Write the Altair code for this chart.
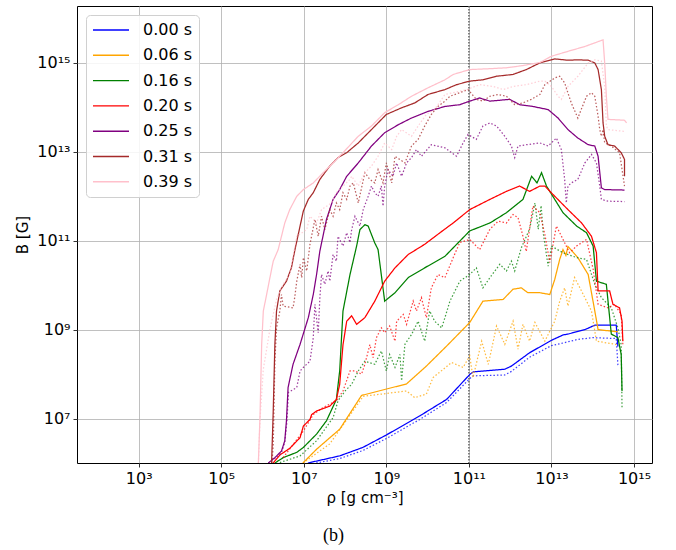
import altair as alt
import pandas as pd

# ---- categories -------------------------------------------------------
times = ["0.00 s", "0.06 s", "0.16 s", "0.20 s", "0.25 s", "0.31 s", "0.39 s"]
colors = ["blue", "orange", "green", "red", "purple", "brown", "pink"]

# ---- data: log10(rho [g/cm^3]) and log10(B [G]) ----
# 0.00 s
t0_solid_lrho = [7.10, 7.87, 8.43, 9.0, 9.81, 10.46, 11.02, 11.10, 11.87, 12.03, 12.47, 13.0, 13.28, 13.40, 13.81, 14.05, 14.57, 14.61]
t0_solid_lB = [6.0, 6.16, 6.35, 6.63, 7.06, 7.43, 7.99, 8.05, 8.11, 8.18, 8.48, 8.76, 8.88, 8.90, 9.0, 9.10, 9.10, 8.62]
t0_dot_lrho = [7.30, 7.87, 8.43, 9.0, 9.81, 10.46, 11.02, 11.10, 11.87, 12.03, 12.47, 13.0, 13.28, 13.64, 14.0, 14.57, 14.61]
t0_dot_lB = [6.0, 6.10, 6.28, 6.55, 6.98, 7.36, 7.90, 7.96, 7.98, 8.06, 8.38, 8.64, 8.70, 8.78, 8.82, 8.80, 8.20]

# 0.06 s
t1_solid_lrho = [6.98, 7.31, 7.87, 8.40, 9.49, 9.97, 10.46, 11.02, 11.34, 11.83, 12.07, 12.27, 12.43, 12.72, 12.96, 13.08, 13.20, 13.28, 13.35, 13.40, 13.64, 13.89, 14.05, 14.13, 14.61]
t1_solid_lB = [6.0, 6.31, 6.76, 7.52, 7.78, 8.18, 8.63, 9.16, 9.64, 9.68, 9.91, 9.94, 9.83, 9.83, 9.79, 10.13, 10.58, 10.80, 10.67, 10.87, 10.62, 10.24, 9.42, 9.00, 8.95]
t1_dot_lrho = [6.98, 7.63, 8.44, 9.49, 9.69, 9.97, 10.13, 10.58, 10.86, 11.02, 11.10, 11.31, 11.47, 11.67, 11.87, 12.07, 12.19, 12.31, 12.47, 12.60, 12.84, 13.08, 13.20, 13.32, 13.40, 13.56, 13.69, 13.97, 14.09, 14.61]
t1_dot_lB = [6.0, 6.43, 7.50, 7.62, 7.47, 7.55, 7.92, 8.26, 8.15, 8.41, 7.92, 8.74, 8.22, 9.08, 8.67, 9.19, 8.56, 9.12, 8.74, 9.16, 8.74, 9.19, 9.64, 9.94, 9.53, 10.17, 9.94, 9.42, 8.74, 8.66]

# 0.16 s
t2_solid_lrho = [6.30, 6.50, 6.83, 6.99, 7.31, 7.55, 7.79, 7.87, 7.95, 8.12, 8.28, 8.36, 8.48, 8.56, 8.72, 8.80, 8.96, 9.21, 9.53, 9.93, 10.42, 11.02, 11.51, 11.91, 12.31, 12.52, 12.65, 12.76, 12.88, 13.28, 13.61, 13.85, 14.01, 14.09, 14.33, 14.45, 14.61, 14.69, 14.71]
t2_solid_lB = [6.0, 6.12, 6.24, 6.35, 6.65, 6.95, 7.43, 8.07, 9.42, 10.24, 10.88, 11.25, 11.36, 11.33, 10.95, 10.80, 9.64, 9.83, 10.17, 10.39, 10.65, 11.22, 11.40, 11.63, 11.93, 12.45, 12.30, 12.53, 12.23, 11.63, 11.33, 11.18, 10.88, 10.09, 10.02, 8.90, 8.82, 8.44, 7.62]
t2_dot_lrho = [6.42, 6.91, 7.31, 7.71, 7.83, 8.0, 8.16, 8.32, 8.48, 8.72, 8.88, 9.0, 9.08, 9.21, 9.33, 9.37, 9.45, 9.61, 9.77, 9.93, 10.05, 10.17, 10.34, 10.42, 10.54, 10.78, 11.02, 11.18, 11.34, 11.51, 11.75, 11.91, 12.03, 12.11, 12.27, 12.47, 12.60, 12.68, 12.75, 12.80, 12.92, 13.0, 13.28, 13.61, 13.85, 14.05, 14.21, 14.45, 14.61, 14.69, 14.71]
t2_dot_lB = [6.01, 6.16, 6.50, 7.02, 7.40, 7.62, 7.77, 8.07, 8.29, 8.22, 8.52, 8.07, 8.44, 8.15, 8.44, 7.85, 8.67, 8.89, 9.19, 8.74, 9.42, 9.19, 9.04, 9.27, 9.64, 10.09, 10.24, 10.39, 9.94, 10.17, 10.47, 10.32, 10.54, 10.32, 10.84, 11.26, 11.85, 11.26, 11.79, 11.18, 10.43, 10.88, 10.73, 10.62, 10.58, 10.02, 9.72, 9.49, 9.04, 8.66, 7.24]

# 0.20 s
t3_solid_lrho = [6.26, 6.42, 6.66, 6.91, 6.99, 7.15, 7.19, 7.31, 7.63, 7.79, 7.87, 7.95, 8.04, 8.16, 8.28, 8.48, 8.72, 8.96, 9.21, 9.53, 9.93, 10.30, 10.62, 11.02, 11.51, 11.91, 12.23, 12.47, 12.72, 12.84, 13.08, 13.40, 13.73, 13.97, 14.09, 14.13, 14.41, 14.49, 14.65, 14.71, 14.73]
t3_solid_lB = [6.0, 6.18, 6.33, 6.57, 6.83, 6.98, 7.09, 7.17, 7.28, 7.43, 7.77, 8.66, 9.19, 9.31, 9.12, 9.27, 9.64, 10.09, 10.39, 10.69, 10.92, 11.18, 11.40, 11.70, 11.93, 12.11, 12.23, 12.11, 12.23, 12.23, 12.0, 11.70, 11.40, 11.10, 10.73, 9.87, 9.87, 9.57, 9.49, 9.19, 8.74]
t3_dot_lrho = [6.50, 6.99, 7.23, 7.47, 7.79, 7.95, 8.12, 8.24, 8.40, 8.48, 8.60, 8.68, 8.76, 8.88, 8.96, 9.08, 9.21, 9.25, 9.41, 9.49, 9.65, 9.73, 9.85, 9.97, 10.09, 10.25, 10.42, 10.62, 10.78, 11.02, 11.26, 11.51, 11.71, 11.91, 12.07, 12.19, 12.31, 12.39, 12.55, 12.72, 12.84, 12.96, 13.12, 13.28, 13.44, 13.61, 13.85, 14.01, 14.13, 14.37, 14.53, 14.69, 14.73]
t3_dot_lB = [6.12, 6.72, 7.09, 7.25, 7.40, 7.62, 8.07, 8.07, 8.0, 8.22, 8.66, 8.37, 8.82, 9.04, 8.93, 9.08, 8.74, 9.19, 9.34, 9.12, 9.64, 9.42, 9.72, 9.27, 9.94, 10.24, 10.17, 10.62, 10.96, 11.03, 10.80, 11.26, 11.44, 11.40, 11.59, 11.52, 11.10, 10.76, 11.78, 11.63, 11.14, 10.51, 11.33, 11.03, 10.73, 10.88, 11.03, 10.36, 9.57, 9.49, 9.57, 9.34, 8.66]

# 0.25 s
t4_solid_lrho = [6.14, 6.30, 6.46, 6.54, 6.58, 6.62, 6.74, 6.91, 7.11, 7.23, 7.31, 7.39, 7.55, 7.71, 7.87, 8.04, 8.32, 8.64, 8.96, 9.29, 9.61, 10.01, 10.42, 10.78, 11.02, 11.26, 11.51, 11.99, 12.23, 12.55, 12.92, 13.16, 13.40, 13.64, 13.89, 14.05, 14.13, 14.21, 14.29, 14.77]
t4_solid_lB = [6.0, 6.12, 6.27, 6.50, 6.95, 7.70, 8.22, 8.67, 9.27, 9.79, 10.24, 10.77, 11.48, 11.93, 12.15, 12.45, 12.75, 13.13, 13.43, 13.61, 13.76, 13.91, 14.02, 14.06, 14.14, 14.21, 14.14, 14.18, 14.06, 14.02, 13.95, 13.76, 13.50, 13.31, 13.16, 13.13, 12.90, 12.19, 12.15, 12.14]
t4_dot_lrho = [6.14, 6.30, 6.46, 6.54, 6.59, 6.63, 6.83, 6.91, 6.99, 7.15, 7.23, 7.27, 7.35, 7.39, 7.43, 7.51, 7.59, 7.63, 7.71, 7.79, 7.83, 7.95, 8.04, 8.12, 8.16, 8.24, 8.36, 8.44, 8.56, 8.64, 8.72, 8.80, 8.88, 8.92, 8.96, 9.04, 9.16, 9.25, 9.37, 9.49, 9.61, 9.73, 9.85, 10.09, 10.42, 10.70, 10.86, 10.98, 11.18, 11.34, 11.51, 11.67, 11.87, 12.03, 12.11, 12.19, 12.39, 12.72, 12.92, 13.12, 13.24, 13.32, 13.36, 13.40, 13.48, 13.64, 13.81, 13.97, 14.09, 14.17, 14.21, 14.37, 14.77]
t4_dot_lB = [6.0, 6.10, 6.23, 6.47, 6.92, 7.59, 7.70, 8.07, 8.15, 8.29, 8.82, 9.57, 8.93, 9.72, 10.24, 10.02, 10.32, 10.09, 10.69, 10.54, 11.10, 10.88, 11.18, 10.96, 11.25, 11.55, 11.33, 11.70, 12.0, 12.23, 12.08, 12.0, 12.23, 11.78, 12.23, 12.60, 12.45, 12.75, 12.45, 12.75, 12.87, 13.05, 12.90, 13.16, 13.09, 12.90, 13.20, 13.39, 13.28, 13.58, 13.65, 13.58, 13.35, 13.13, 12.87, 13.13, 13.16, 13.20, 13.13, 13.31, 13.05, 12.38, 11.85, 12.23, 12.30, 12.38, 12.75, 12.94, 12.75, 12.23, 11.93, 11.89, 11.88]

# 0.31 s
t5_solid_lrho = [6.22, 6.26, 6.30, 6.34, 6.42, 6.58, 6.70, 6.78, 6.91, 6.99, 7.11, 7.23, 7.39, 7.63, 7.83, 8.04, 8.32, 8.64, 9.0, 9.37, 9.69, 10.01, 10.42, 10.70, 11.02, 11.34, 11.67, 12.07, 12.39, 12.72, 13.08, 13.40, 13.64, 13.89, 14.05, 14.13, 14.21, 14.25, 14.29, 14.37, 14.53, 14.69, 14.77, 14.77]
t5_solid_lB = [6.0, 7.17, 8.67, 9.42, 9.87, 10.09, 10.39, 10.77, 11.33, 11.67, 11.93, 12.08, 12.38, 12.68, 12.87, 12.98, 13.20, 13.50, 13.84, 13.99, 14.10, 14.29, 14.40, 14.51, 14.59, 14.62, 14.70, 14.74, 14.85, 15.0, 15.09, 15.06, 15.07, 15.06, 15.0, 14.85, 14.40, 13.65, 13.35, 13.16, 13.13, 12.98, 12.83, 12.45]
t5_dot_lrho = [6.23, 6.26, 6.30, 6.34, 6.42, 6.46, 6.50, 6.74, 6.78, 6.83, 6.91, 6.95, 6.99, 7.07, 7.15, 7.27, 7.35, 7.43, 7.51, 7.63, 7.71, 7.79, 7.87, 7.95, 8.04, 8.12, 8.20, 8.32, 8.48, 8.60, 8.72, 8.80, 8.92, 9.0, 9.13, 9.21, 9.45, 9.61, 9.77, 9.93, 10.09, 10.25, 10.42, 10.54, 10.78, 10.98, 11.18, 11.34, 11.51, 11.71, 11.91, 12.11, 12.31, 12.51, 12.72, 12.84, 13.08, 13.20, 13.32, 13.48, 13.64, 13.72, 13.85, 13.97, 14.05, 14.13, 14.17, 14.21, 14.25, 14.29, 14.45, 14.65, 14.77]
t5_dot_lB = [6.0, 6.42, 8.29, 9.04, 9.42, 9.79, 9.53, 9.49, 9.72, 10.09, 10.47, 10.17, 10.62, 10.32, 10.92, 11.48, 11.10, 11.55, 11.25, 11.70, 11.55, 11.85, 11.70, 12.08, 11.93, 12.23, 12.30, 11.85, 12.53, 12.38, 12.30, 12.60, 12.30, 12.75, 12.30, 12.90, 12.75, 13.13, 13.28, 13.58, 13.84, 14.02, 14.14, 14.25, 14.33, 14.40, 14.18, 14.14, 14.25, 14.29, 14.25, 14.06, 14.10, 14.18, 14.29, 14.51, 14.66, 14.70, 14.55, 14.10, 13.76, 13.95, 14.25, 14.33, 14.25, 13.80, 13.50, 13.35, 13.50, 13.20, 13.13, 12.98, 12.23]

# 0.39 s
t6_solid_lrho = [5.90, 5.94, 5.98, 6.02, 6.10, 6.18, 6.26, 6.38, 6.46, 6.54, 6.66, 6.83, 6.99, 7.23, 7.47, 7.71, 7.95, 8.32, 8.64, 8.96, 9.29, 9.61, 10.01, 10.42, 10.62, 11.02, 11.51, 11.91, 12.31, 12.72, 13.0, 13.40, 13.81, 14.05, 14.25, 14.29, 14.33, 14.37, 14.77, 14.82]
t6_solid_lB = [6.0, 7.06, 8.67, 9.42, 9.79, 10.17, 10.54, 10.80, 11.10, 11.40, 11.70, 12.0, 12.15, 12.30, 12.53, 12.75, 12.98, 13.35, 13.58, 13.88, 14.06, 14.25, 14.44, 14.62, 14.74, 14.85, 14.87, 14.89, 14.94, 15.01, 15.15, 15.26, 15.37, 15.45, 15.52, 15.0, 14.25, 13.73, 13.71, 13.65]
t6_dot_lrho = [5.90, 5.94, 6.02, 6.18, 6.34, 6.50, 6.66, 6.83, 7.07, 7.15, 7.31, 7.43, 7.67, 7.79, 7.95, 8.12, 8.16, 8.32, 8.48, 8.64, 8.80, 8.96, 9.13, 9.25, 9.37, 9.61, 9.77, 9.97, 10.17, 10.42, 10.62, 10.95, 11.26, 11.59, 11.83, 12.07, 12.39, 12.72, 12.84, 13.0, 13.16, 13.24, 13.40, 13.64, 13.89, 14.05, 14.21, 14.29, 14.33, 14.37, 14.77]
t6_dot_lB = [6.0, 6.98, 8.11, 9.01, 9.68, 10.02, 10.24, 11.10, 11.25, 11.55, 11.40, 11.70, 11.85, 12.08, 12.23, 12.38, 12.45, 12.23, 12.53, 12.68, 12.90, 13.20, 13.05, 13.35, 13.50, 13.35, 13.58, 13.84, 13.95, 14.29, 14.33, 14.40, 14.51, 14.47, 14.40, 14.47, 14.51, 14.59, 14.59, 14.47, 14.25, 14.18, 14.47, 14.70, 15.0, 15.07, 15.04, 14.47, 13.58, 13.50, 13.46]

series = [
    (t0_solid_lrho, t0_solid_lB, t0_dot_lrho, t0_dot_lB),
    (t1_solid_lrho, t1_solid_lB, t1_dot_lrho, t1_dot_lB),
    (t2_solid_lrho, t2_solid_lB, t2_dot_lrho, t2_dot_lB),
    (t3_solid_lrho, t3_solid_lB, t3_dot_lrho, t3_dot_lB),
    (t4_solid_lrho, t4_solid_lB, t4_dot_lrho, t4_dot_lB),
    (t5_solid_lrho, t5_solid_lB, t5_dot_lrho, t5_dot_lB),
    (t6_solid_lrho, t6_solid_lB, t6_dot_lrho, t6_dot_lB),
]

# axis ticks (exponents)
x_tick_exps = [3, 5, 7, 9, 11, 13, 15]
y_tick_exps = [7, 9, 11, 13, 15]
vline_rho = [1e11]

rows = []
for t, (sx, sy, dx, dy) in zip(times, series):
    for i, (a, b) in enumerate(zip(dx, dy)):
        rows.append({"time": t, "kind": "dotted", "line": t + " d", "i": i,
                     "rho": 10 ** a, "B": 10 ** b})
    for i, (a, b) in enumerate(zip(sx, sy)):
        rows.append({"time": t, "kind": "solid", "line": t + " s", "i": i,
                     "rho": 10 ** a, "B": 10 ** b})
df = pd.DataFrame(rows)

sup = str.maketrans("0123456789-", "⁰¹²³⁴⁵⁶⁷⁸⁹⁻")


def label_expr(exps):
    parts = [f"abs(log(datum.value)/LN10 - {e}) < 0.01 ? '10{str(e).translate(sup)}'" for e in exps]
    return " : ".join(parts) + " : ''"


x_scale = alt.Scale(type="log", domain=[10 ** 1.506, 10 ** 15.436], nice=False)
y_scale = alt.Scale(type="log", domain=[10 ** 6.0, 10 ** 16.28], nice=False)

lines = alt.Chart(df).mark_line(strokeWidth=1.25, clip=True).encode(
    x=alt.X("rho:Q", scale=x_scale,
            axis=alt.Axis(values=[10.0 ** e for e in x_tick_exps], labelExpr=label_expr(x_tick_exps),
                          title="ρ [g cm⁻³]", grid=True, titlePadding=4)),
    y=alt.Y("B:Q", scale=y_scale,
            axis=alt.Axis(values=[10.0 ** e for e in y_tick_exps], labelExpr=label_expr(y_tick_exps),
                          title="B [G]", grid=True, titlePadding=6)),
    color=alt.Color("time:N", scale=alt.Scale(domain=times, range=colors),
                    legend=alt.Legend(title=None, orient="none", legendX=9, legendY=9,
                                      symbolType="stroke", symbolSize=1296, symbolStrokeWidth=1.4,
                                      labelFontSize=16, labelFont="DejaVu Sans", labelColor="black",
                                      labelOffset=13, clipHeight=18, rowPadding=7.3,
                                      fillColor="rgba(255,255,255,0.85)", strokeColor="#d0d0d0",
                                      cornerRadius=4, padding=6)),
    strokeDash=alt.StrokeDash("kind:N", scale=alt.Scale(domain=["solid", "dotted"], range=[[1, 0], [1.5, 2]]),
                              legend=None),
    opacity=alt.Opacity("kind:N", scale=alt.Scale(domain=["solid", "dotted"], range=[1.0, 0.75]), legend=None),
    detail="line:N",
    order="i:Q",
)

vline = alt.Chart(pd.DataFrame({"rho": vline_rho})).mark_rule(
    color="#555555", strokeWidth=1.3, strokeDash=[1.5, 1.5]
).encode(x=alt.X("rho:Q", scale=x_scale))

chart = alt.layer(vline, lines).properties(
    width=575, height=457,
    autosize=alt.AutoSizeParams(type="none"),
    padding={"left": 77, "top": 6, "right": 24, "bottom": 87},
    title=alt.TitleParams("(b)", orient="bottom", anchor="middle", font="Liberation Serif",
                          fontSize=18, fontWeight="normal", color="black", offset=22, dx=-31),
).configure_view(stroke="black", strokeWidth=1).configure_axis(
    labelFont="DejaVu Sans", titleFont="DejaVu Sans", labelFontSize=16, titleFontSize=15,
    labelColor="black", titleColor="black", tickColor="black", tickSize=4, tickWidth=0.8,
    gridColor="#b0b0b0", gridWidth=0.8, domain=False, titleFontWeight="normal", labelPadding=3,
)

chart.save("out.html", embed_options={"renderer": "svg", "actions": False})
